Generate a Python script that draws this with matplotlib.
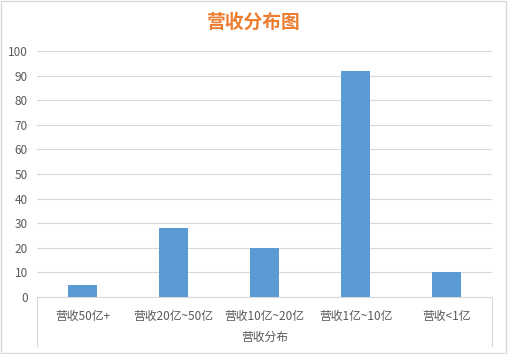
import numpy as np
import matplotlib
matplotlib.use("Agg")
import matplotlib.pyplot as plt
from matplotlib.patches import Rectangle

plt.rcParams['font.family'] = ['Noto Sans CJK SC', 'DejaVu Sans']

categorias = ["营收50亿+", "营收20亿~50亿", "营收10亿~20亿", "营收1亿~10亿", "营收<1亿"]
valores = [5, 28, 20, 92, 10]
yticks = np.arange(0, 101, 10)

fig = plt.figure(figsize=(5.08, 3.54), dpi=100)
fig.patch.set_facecolor("white")
fig.patches.append(Rectangle((0.002, 0.003), 0.995, 0.994, transform=fig.transFigure,
                             fill=False, edgecolor="#D9D9D9", linewidth=1))

ax = fig.add_axes([0.0728, 0.161, 0.8957, 0.695])
x = np.arange(len(categorias))
ax.bar(x, valores, width=0.32, color="#5B9BD5", zorder=3)

ax.set_xlim(-0.5, len(categorias) - 0.5)
ax.set_ylim(0, 100)
ax.set_yticks(yticks)
ax.set_yticklabels([str(v) for v in yticks], fontsize=8.5, color="#595959")
ax.set_xticks(x)
ax.set_xticklabels(categorias, fontsize=8.5, color="#595959")
ax.tick_params(axis="both", length=0)
ax.tick_params(axis="y", pad=6.5)
ax.tick_params(axis="x", pad=9)
ax.grid(axis="y", color="#D9D9D9", linewidth=0.8, zorder=0)

for s in ["top", "right", "left"]:
    ax.spines[s].set_visible(False)
ax.spines["bottom"].set_color("#D9D9D9")

# caja del eje de categorias
for xx in [0, 1]:
    ax.plot([xx, xx], [0, -0.2], transform=ax.transAxes, color="#D9D9D9",
            linewidth=0.8, clip_on=False)

ax.set_xlabel("营收分布", fontsize=8.5, color="#595959", labelpad=6)

fig.text(0.5, 0.937, "营收分布图", ha="center", va="center", fontsize=13.5,
         fontweight="bold", color="#ED7D31")

plt.savefig("out.png", dpi=100)
